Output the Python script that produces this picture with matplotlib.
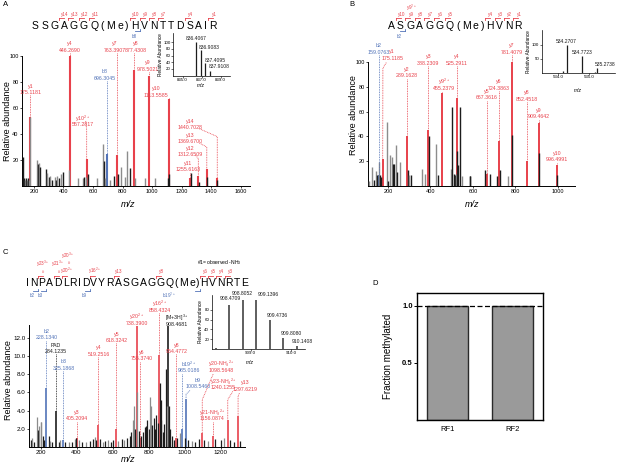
import matplotlib
matplotlib.use('Agg')
import matplotlib.pyplot as plt
from matplotlib.ticker import FormatStrFormatter

W, H = 617, 465
plt.rcParams['font.family'] = ['Liberation Sans', 'DejaVu Sans']
plt.rcParams['mathtext.fontset'] = 'custom'
plt.rcParams['mathtext.rm'] = 'Liberation Sans'
plt.rcParams['mathtext.it'] = 'Liberation Sans:italic'
plt.rcParams['mathtext.bf'] = 'Liberation Sans:bold'

RED = '#e8414b'
BLUE = '#5273b8'
BLACK = '#1c1c1c'
GRAY = '#8c8c8c'

# ======================= DATA =======================
# ---- Panel A ----
A_seq = "SSGAGGQ(Me)HVNTTDSAIR"
A_bg_mz = [130, 135, 140, 147, 152, 158, 163, 168, 175, 224, 230, 238, 245,
           285, 290, 300, 312, 325, 340, 352, 360, 372, 383, 395, 438,
           500, 530, 542, 550, 563, 630, 668, 672, 682, 715, 742, 768,
           792, 815, 833, 852, 885, 950, 1017, 1105, 1117, 1262, 1318, 1372, 1442]
A_bg_int = [22, 6, 5, 6, 5, 4, 6, 5, 53, 20, 17, 18, 15,
            13, 10, 7, 8, 5, 7, 5, 8, 6, 9, 11, 12,
            6, 6, 7, 7, 9, 6, 32, 19, 6, 5, 8, 9,
            15, 7, 27, 14, 6, 6, 6, 6, 9, 10, 3, 7, 5]
A_bg_dark = [1, 1, 0, 1, 0, 1, 1, 0, 0, 0, 1, 0, 1,
             1, 0, 1, 0, 1, 0, 1, 0, 1, 0, 1, 0,
             0, 0, 1, 0, 1, 0, 0, 1, 0, 0, 1, 1,
             0, 0, 0, 1, 0, 0, 0, 1, 1, 1, 1, 1, 1]
A_ion_name = ['y1', 'y4', 'y10$^{2+}$', 'b8', 'y7', 'y8', 'y9', 'y10',
              'y11', 'y12', 'y13', 'y14']
A_ion_mz = [175.1181, 446.2690, 557.2817, 696.3045, 763.3907, 877.4308,
            978.5021, 1113.5585, 1255.6163, 1312.6509, 1369.6700, 1440.7028]
A_ion_int = [53, 100, 21, 25, 24, 89, 85, 67, 6, 8, 13, 6]
A_ion_kind = ['y', 'y', 'y', 'b', 'y', 'y', 'y', 'y', 'y', 'y', 'y', 'y']
A_iso_mz = [836.4067, 836.9083, 837.4095, 837.9108]
A_iso_int = [100, 78, 39, 14]
A_frag_y = [('y14', 4), ('y13', 5), ('y12', 6), ('y11', 7), ('y10', 8),
            ('y9', 9), ('y8', 10), ('y7', 11), ('y4', 14), ('y1', 17)]
A_frag_b = [('b8', 8)]

# ---- Panel B ----
B_seq = "ASGAGGQ(Me)HVNR"
B_bg_mz = [112, 125, 134, 144, 150, 156, 162, 167, 194, 198, 210, 218, 222,
           229, 238, 243, 257, 292, 301, 306, 362, 372, 391, 427, 437, 496,
           501, 509, 514, 522, 527, 531, 537, 548, 585, 588, 655, 679, 713,
           729, 764, 783, 910, 996]
B_bg_int = [4, 15, 5, 12, 9, 19, 9, 7, 52, 4, 25, 23, 18,
            18, 33, 11, 19, 13, 9, 9, 14, 10, 40, 34, 9, 14,
            64, 10, 9, 10, 28, 17, 64, 8, 8, 8, 13, 10, 8,
            13, 8, 41, 27, 9]
B_bg_dark = [0, 0, 1, 0, 1, 0, 1, 1, 0, 1, 0, 0, 1,
             1, 0, 1, 0, 1, 0, 1, 0, 0, 1, 0, 1, 0,
             1, 1, 1, 0, 1, 1, 1, 0, 1, 1, 1, 1, 1,
             1, 0, 1, 1, 1]
B_ion_name = ['b2', 'y1', 'y2', 'y3', 'y9$^{2+}$', 'y4', 'y5', 'y6', 'y7',
              'y8', 'y9', 'y10']
B_ion_mz = [159.0763, 175.1185, 289.1628, 388.2309, 455.2379, 525.2911,
            667.3616, 724.3863, 781.4079, 852.4518, 909.4642, 996.4991]
B_ion_int = [9, 22, 40, 45, 75, 71, 10, 36, 100, 20, 51, 17]
B_ion_kind = ['b', 'y', 'y', 'y', 'y', 'y', 'y', 'y', 'y', 'y', 'y', 'y']
B_iso_mz = [534.14, 534.2707, 534.7723, 535.20, 535.2738]
B_iso_int = [8, 98, 62, 5, 19]
B_frag_y = [('y10', 2), ('y9', 3), ('y8', 4), ('y7', 5), ('y6', 6), ('y5', 7),
            ('y4', 8), ('y3', 9), ('y2', 10), ('y1', 11)]
B_frag_b = [('b2', 2)]

# ---- Panel C ----
C_seq = "INPADLRIDVYRASGAGGQ(Me)HVNRTE"
C_bg_mz = [147, 155, 165, 181, 188, 193, 200, 205, 213, 222, 245, 255, 265,
           300, 310, 335, 360, 375, 390, 398, 415, 430, 455, 475, 492, 500,
           510, 530, 545, 560, 575, 590, 605, 630, 650, 665, 680, 695, 705,
           712, 718, 725, 738, 745, 760, 770, 778, 785, 792, 800, 808, 812,
           820, 828, 835, 842, 850, 862, 867, 872, 880, 888, 897, 903, 915,
           920, 928, 940, 960, 975, 1000, 1020, 1040, 1060, 1080, 1110, 1130,
           1170, 1200, 1220, 1255, 1275, 1310]
C_bg_int = [0.8, 1.0, 0.6, 3.3, 1.9, 2.3, 2.8, 2.7, 1.2, 0.8, 1.2, 0.7, 0.5,
            0.6, 0.8, 0.5, 0.6, 0.5, 0.9, 1.0, 0.8, 0.6, 0.5, 0.7, 0.9, 1.1,
            0.8, 0.9, 0.6, 0.7, 0.8, 0.6, 0.8, 0.7, 0.9, 0.8, 1.0, 1.2, 1.7,
            3.0, 4.5, 2.0, 6.0, 1.8, 1.2, 1.6, 2.2, 2.3, 3.0, 2.0, 5.5, 4.5,
            2.4, 3.2, 2.0, 3.5, 2.6, 7.0, 5.2, 3.0, 1.6, 2.5, 8.6, 4.5, 4.5,
            2.0, 1.2, 0.8, 1.0, 1.5, 1.0, 0.8, 0.7, 0.6, 0.9, 0.8, 0.7,
            0.9, 0.8, 1.0, 0.8, 0.6, 0.7]
C_bg_dark = [1, 0, 1, 0, 1, 0, 0, 0, 1, 1, 1, 0, 1,
             1, 0, 1, 0, 1, 0, 1, 0, 1, 0, 1, 1, 0,
             1, 1, 0, 1, 0, 1, 1, 0, 1, 0, 1, 1, 1,
             0, 0, 1, 0, 1, 1, 1, 1, 1, 1, 1, 0, 0,
             1, 1, 1, 1, 1, 1, 1, 1, 1, 1, 1, 0, 1,
             1, 1, 1, 1, 0, 1, 1, 0, 1, 1, 1, 0,
             1, 1, 0, 1, 1, 1]
C_ion_name = ['b2', 'PAD', 'b3', 'y3', 'y4', 'y5', 'y20$^{2+}$', 'y6',
              'y16$^{2+}$', '[M+3H]$^{3+}$', 'y8', 'b19$^{2+}$', 'b9',
              'y20-NH$_3$$^{2+}$', 'y21-NH$_3$$^{2+}$', 'y23-NH$_3$$^{2+}$', 'y13']
C_ion_mz = [228.1340, 284.1235, 325.1868, 405.2094, 519.2516, 618.3242,
            738.3900, 755.3740, 858.4324, 908.4681, 954.4772, 985.0186,
            1008.5460, 1098.5648, 1156.0874, 1240.1255, 1297.6219]
C_ion_int = [6.5, 3.9, 0.8, 1.0, 2.45, 2.0, 13.3, 1.0, 10.1, 13.3, 1.0, 2.0,
             5.3, 1.5, 1.2, 3.0, 3.4]
C_ion_kind = ['b', 'o', 'b', 'y', 'y', 'y', 'y', 'y', 'y', 'o', 'y', 'b', 'b',
              'y', 'y', 'y', 'y']
C_iso_mz = [908.13, 908.4709, 908.8052, 909.1396, 909.4736, 909.8080, 910.1408]
C_iso_int = [2, 90, 100, 100, 59, 22, 7]
C_frag_y = [('y23$^{3+}$', 3), ('y21$^{3+}$', 5), ('y20$^{2+}$', 6),
            ('y16$^{2+}$', 10), ('y13', 13), ('y8', 18), ('y6', 20),
            ('y5', 21), ('y4', 22), ('y3', 23)]
C_frag_b = [('b2', 2), ('b3', 3), ('b9', 9), ('b19$^{2+}$', 19)]

# ---- Panel D ----
D_labels = ['RF1', 'RF2']
D_values = [1.0, 0.995]

# ======================= FIGURE =======================
FRAG_FS = 3.3
ION_FS = 3.8

fig = plt.figure(figsize=(W / 100, H / 100), dpi=100, facecolor='white')
ov = fig.add_axes([0, 0, 1, 1], zorder=20)
ov.set_xlim(0, W)
ov.set_ylim(H, 0)
ov.axis('off')
renderer = fig.canvas.get_renderer()


def add_ax(l, t, r, b):
    return fig.add_axes([l / W, 1 - b / H, (r - l) / W, (b - t) / H])


def style_spec(ax, xlim, ylim, xt, yt, fs, lw=0.7):
    ax.set_xlim(*xlim)
    ax.set_ylim(*ylim)
    for s in ['top', 'right']:
        ax.spines[s].set_visible(False)
    for s in ['left', 'bottom']:
        ax.spines[s].set_linewidth(lw)
    ax.set_xticks(xt)
    ax.set_yticks(yt)
    ax.tick_params(labelsize=fs, length=1.5, width=0.5, pad=1)
    ax.patch.set_alpha(0)


def px_per_y(ax):
    bb = ax.get_position()
    y0, y1 = ax.get_ylim()
    return bb.height * H / (y1 - y0)


def draw_bg(ax, mz, inten, dark, lw):
    cols = [BLACK if d else GRAY for d in dark]
    ax.vlines(mz, 0, inten, colors=cols, lw=lw, zorder=3)


def draw_ions(ax, names, mzs, ints, kinds, labxy, leaders, fs=ION_FS, lw=1.3):
    k2c = {'y': RED, 'b': BLUE, 'o': BLACK}
    ppy = px_per_y(ax)
    for i, name in enumerate(names):
        c = k2c[kinds[i]]
        mz, h = mzs[i], ints[i]
        lx, ly = labxy[i]
        ax.vlines(mz, 0, h, colors=c, lw=lw, zorder=2)
        ax.text(lx, ly, f'{mz:.4f}', color=c, fontsize=fs, ha='center',
                va='center', zorder=5, clip_on=False)
        ax.annotate(name, (lx, ly), xytext=(0, 4.6), textcoords='offset points',
                    color=c, fontsize=fs, ha='center', va='center',
                    annotation_clip=False, zorder=5)
        path = leaders.get(name)
        if path is None:
            y0 = ly - 3.0 / ppy
            if y0 > h:
                path = [(mz, y0), (mz, h)]
        if path:
            xs, ys = zip(*path)
            ax.plot(xs, ys, color=c, lw=0.6, ls=(0, (1, 1)), zorder=4,
                    clip_on=False)


def draw_sequence(seq, x0, x1, ybase, fs):
    ws = []
    for ch in seq:
        t = ov.text(0, 0, ch, fontsize=fs)
        ws.append(t.get_window_extent(renderer).width)
        t.remove()
    track = (x1 - x0 - sum(ws)) / (len(seq) - 1)
    x = x0
    res = []
    in_mod = False
    for ch, w in zip(seq, ws):
        ov.text(x + w / 2, ybase, ch, fontsize=fs, ha='center', va='baseline',
                color='black')
        if ch == '(':
            in_mod = True
        if in_mod:
            l, r, c = res[-1]
            res[-1] = (l, x + w, c)
        else:
            res.append((x, x + w, x + w / 2))
        if ch == ')':
            in_mod = False
        x += w + track
    return res


def frag_y(res, frags, ylab, ybr, fs=FRAG_FS, special=None, dx=None):
    special = special or {}
    dx = dx or {}
    for name, k in frags:
        bx = (res[k - 1][0] + res[k - 2][1]) / 2
        ov.plot([bx, bx], [ybr, ybr + 2], color=RED, lw=0.6)
        ov.plot([bx, bx + 5], [ybr, ybr], color=RED, lw=0.6)
        yl = special.get(name, ylab)
        ov.text(res[k - 1][2] + 1 + dx.get(name, 0), yl, name, color=RED,
                fontsize=fs, ha='center', va='center')


def frag_b(res, frags, ylab, ybr, fs=FRAG_FS):
    for name, k in frags:
        bx = (res[k - 1][1] + res[k][0]) / 2
        ov.plot([bx, bx], [ybr, ybr - 2], color=BLUE, lw=0.6)
        ov.plot([bx - 5, bx], [ybr, ybr], color=BLUE, lw=0.6)
        ov.text(res[k - 1][2] - 1, ylab, name, color=BLUE, fontsize=fs,
                ha='center', va='center')


def style_inset(ax, xlim, ylim, xt, yt, fs=3.2):
    ax.set_xlim(*xlim)
    ax.set_ylim(*ylim)
    for s in ['top', 'right']:
        ax.spines[s].set_visible(False)
    for s in ['left', 'bottom']:
        ax.spines[s].set_linewidth(0.5)
    ax.set_xticks(xt)
    ax.set_xticklabels([f'{v:.1f}' for v in xt])
    ax.set_yticks(yt)
    ax.tick_params(labelsize=fs, length=1.2, width=0.4, pad=0.6)
    ax.patch.set_alpha(0)


def inset_labels(ax, mzs, pos, fs=3.6):
    for mz, (x, y, ha) in zip(mzs, pos):
        ax.text(x, y, f'{mz:.4f}', fontsize=fs, ha=ha, va='center',
                color=BLACK, clip_on=False)


# ---------------- Panel A ----------------
axA = add_ax(22, 56, 250, 186)
style_spec(axA, (120, 1662), (0, 100), range(200, 1700, 200),
           [20, 40, 60, 80, 100], 4.0)
A_lab = [(181, 72), (446, 104.6), (529, 47), (680, 83), (750, 104.6),
         (893, 104.6), (968, 90), (1029, 70), (1243, 12.6), (1255, 24),
         (1255, 34), (1255, 45)]
A_lead = {'y10$^{2+}$': [(551, 50), (557.3, 43), (557.3, 21)],
          'y14': [(1320, 44), (1440.7, 38), (1440.7, 6)],
          'y13': [(1320, 33), (1369.7, 30), (1369.7, 13)],
          'y12': [(1295, 23.6), (1312.7, 21), (1312.7, 8)]}
draw_ions(axA, A_ion_name, A_ion_mz, A_ion_int, A_ion_kind, A_lab, A_lead, lw=1.5)
draw_bg(axA, A_bg_mz, A_bg_int, A_bg_dark, 1.0)

axAi = add_ax(173, 33, 230, 75.6)
style_inset(axAi, (834.0, 840.0), (0, 128), [835.0, 837.0, 839.0],
            [20, 40, 60, 80, 100])
axAi.vlines(A_iso_mz, 0, A_iso_int, colors=BLACK, lw=0.9)
inset_labels(axAi, A_iso_mz, [(836.41, 110, 'center'), (836.75, 84, 'left'),
                              (837.3, 45, 'left'), (837.8, 26, 'left')])

resA = draw_sequence(A_seq, 32, 217, 28.6, 7.5)
frag_y(resA, A_frag_y, 14.5, 18.3)
frag_b(resA, A_frag_b, 36.5, 31.5)

# ---------------- Panel B ----------------
axB = add_ax(368, 62, 575, 186)
style_spec(axB, (106, 1080), (0, 100), [200, 400, 600, 800, 1000],
           [20, 40, 60, 80, 100], 4.0)
B_lab = [(154, 108), (220, 103), (289, 89), (390, 99), (462, 78.5), (525, 99),
         (664, 71), (722, 79), (782, 108), (852, 70), (909, 56), (996, 21)]
B_lead = {'y1': [(192, 99.5), (176, 95), (175.1, 22)]}
draw_ions(axB, B_ion_name, B_ion_mz, B_ion_int, B_ion_kind, B_lab, B_lead, lw=1.4)
draw_bg(axB, B_bg_mz, B_bg_int, B_bg_dark, 1.0)

axBi = add_ax(541.7, 30, 615, 73)
style_inset(axBi, (533.45, 535.86), (0, 153), [534.0, 535.0], [50, 100])
axBi.vlines(B_iso_mz, 0, B_iso_int, colors=BLACK, lw=0.9)
inset_labels(axBi, [B_iso_mz[1], B_iso_mz[2], B_iso_mz[4]],
             [(534.24, 112, 'center'), (534.78, 73, 'center'),
              (535.2, 30, 'left')])

resB = draw_sequence(B_seq, 388, 522, 28.6, 7.5)
frag_y(resB, B_frag_y, 14.8, 18.3)
ov.text(resB[2][2] + 1, 8.0, 'y9$^{2+}$', color=RED, fontsize=FRAG_FS,
        ha='center', va='center')
frag_b(resB, B_frag_b, 36.5, 31.5)

# ---------------- Panel C ----------------
axC = add_ax(29, 325, 245, 447)
style_spec(axC, (136, 1336), (0, 13.4), [200, 400, 600, 800, 1000, 1200],
           [2, 4, 6, 8, 10, 12], 4.5)
axC.yaxis.set_major_formatter(FormatStrFormatter('%.1f'))
C_lab = [(233, 12.0), (284, 10.5), (328, 8.65), (404, 3.1), (522, 10.2),
         (622, 11.7), (735, 13.55), (761, 9.7), (863, 15.0), (958, 13.5),
         (955, 10.5), (1025, 8.4), (1075, 6.6), (1205, 8.4), (1155, 3.1),
         (1215, 6.5), (1338, 6.35)]
C_lead = {'b9': [(1030, 6.2), (1008.5, 5.8), (1008.5, 5.3)],
          'y20-NH$_3$$^{2+}$': [(1159, 8.0), (1098.6, 5.2), (1098.6, 1.5)],
          'y23-NH$_3$$^{2+}$': [(1268, 6.1), (1240.1, 5.2), (1240.1, 3.0)],
          'y13': [(1305, 5.9), (1297.6, 5.6), (1297.6, 3.4)],
          'y20$^{2+}$': []}
draw_ions(axC, C_ion_name, C_ion_mz, C_ion_int, C_ion_kind, C_lab, C_lead,
          lw=1.2)
draw_bg(axC, C_bg_mz, C_bg_int, C_bg_dark, 0.9)

axCi = add_ax(211.7, 295, 305, 349)
style_inset(axCi, (908.03, 910.35), (0, 110), [909.0, 910.0], [20, 40, 60, 80])
axCi.vlines(C_iso_mz, 0, C_iso_int, colors='#333333', lw=1.1)
inset_labels(axCi, C_iso_mz[1:],
             [(908.50, 103, 'center'), (908.80, 113, 'center'),
              (909.17, 112, 'left'), (909.41, 68, 'left'),
              (909.75, 31, 'left'), (910.02, 15, 'left')])

resC = draw_sequence(C_seq, 26, 248, 286.4, 7.5)
frag_y(resC, C_frag_y, 271.0, 275.5,
       special={'y23$^{3+}$': 264.3, 'y21$^{3+}$': 264.3},
       dx={'y21$^{3+}$': -1.5, 'y23$^{3+}$': -0.5})
ov.text(resC[5][2] + 2.5, 256, 'y20$^{3+}$', color=RED, fontsize=FRAG_FS,
        ha='center', va='center')
for k, yy, ddx in [(3, 272.3, 0), (5, 272.3, 0), (6, 263.3, 3.0)]:
    ov.text(resC[k - 1][2] + 1 + ddx, yy, '#', color=RED, fontsize=2.8,
            ha='center', va='center')
frag_b(resC, C_frag_b, 295.5, 290.5)
ov.text(197, 263, '#1= observed -NH$_3$', fontsize=3.6, ha='left', va='center')

# ---------------- Panel D ----------------
axD = add_ax(417, 293, 543, 420)
axD.bar(range(len(D_labels)), D_values, width=0.64, color='#9a9a9a',
        edgecolor='#2a2a2a', lw=1.0, zorder=2)
axD.axhline(1.0, color='black', lw=0.9, ls=(0, (4, 2)), zorder=3)
axD.set_xlim(-0.48, 1.48)
axD.set_ylim(0, 1.11)
axD.set_yticks([0.5, 1.0])
axD.set_yticklabels(['0.5', '1.0'], fontweight='bold')
axD.set_xticks(range(len(D_labels)))
axD.set_xticklabels(D_labels)
axD.tick_params(axis='y', labelsize=5.5, length=2, width=0.7, pad=1)
axD.tick_params(axis='x', labelsize=5.5, length=0, pad=4)
for s in axD.spines.values():
    s.set_linewidth(1.0)

# ---------------- figure texts ----------------
ov.text(3, 5, 'A', fontsize=5.5, ha='left', va='center')
ov.text(349, 5, 'B', fontsize=5.5, ha='left', va='center')
ov.text(3, 252, 'C', fontsize=5.5, ha='left', va='center')
ov.text(372, 283, 'D', fontsize=5.5, ha='left', va='center')

ov.text(8, 121, 'Relative abundance', rotation=90, fontsize=6.5, ha='center', va='center')
ov.text(128, 204, 'm/z', style='italic', fontsize=6.5, ha='center', va='center')
ov.text(353, 115, 'Relative abundance', rotation=90, fontsize=6.5, ha='center', va='center')
ov.text(472, 204, 'm/z', style='italic', fontsize=6.5, ha='center', va='center')
ov.text(9, 380, 'Relative abundance', rotation=90, fontsize=6.5, ha='center', va='center')
ov.text(128, 459, 'm/z', style='italic', fontsize=6.5, ha='center', va='center')
ov.text(388, 356, 'Fraction methylated', rotation=90, fontsize=7, ha='center', va='center')

for (x, y) in [(160, 55), (529, 52), (200.5, 322)]:
    ov.text(x, y, 'Relative Abundance', rotation=90, fontsize=3.4,
            ha='center', va='center')
for (x, y) in [(201, 85.5), (578, 90), (250, 362)]:
    ov.text(x, y, 'm/z', style='italic', fontsize=3.6, ha='center', va='center')

fig.savefig('out.png', dpi=100, facecolor='white')
